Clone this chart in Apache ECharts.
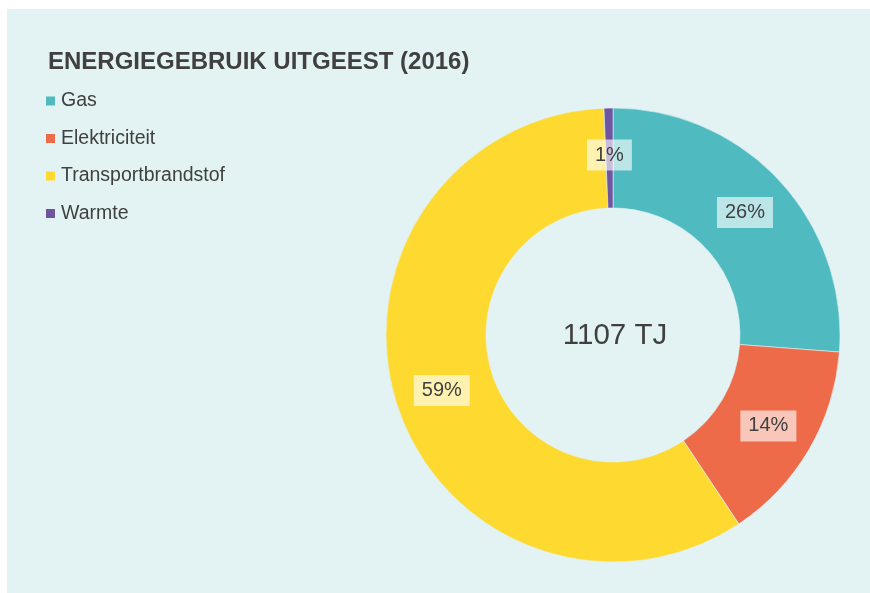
<!DOCTYPE html>
<html>
<head>
<meta charset="utf-8">
<script src="https://cdn.jsdelivr.net/npm/echarts@6/dist/echarts.min.js"></script>
<style>
html,body{margin:0;padding:0;background:#ffffff;}
#panel{position:absolute;left:7px;top:9px;width:863px;height:584px;background:#e3f3f3;}
#chart{position:absolute;left:0;top:0;width:870px;height:593px;}
</style>
</head>
<body>
<div id="panel"></div>
<div id="chart"></div>
<script>
const titleText = 'ENERGIEGEBRUIK UITGEEST (2016)';
const totalText = '1107 TJ';
const categories = ['Gas', 'Elektriciteit', 'Transportbrandstof', 'Warmte'];
const values = [290, 160, 650, 7];
const colors = ['#4fbabf', '#ee6b4a', '#fed930', '#6e55a0'];

const chart = echarts.init(document.getElementById('chart'), null, {renderer: 'canvas'});
const textColor = '#404040';
const font = '"Liberation Sans", Arial, sans-serif';

chart.setOption({
  backgroundColor: 'transparent',
  color: colors,
  title: [{
    text: titleText,
    left: 48,
    top: 50,
    padding: 0,
    textStyle: {fontFamily: font, fontWeight: 'bold', fontSize: 24, color: textColor}
  }, {
    text: totalText,
    left: 615,
    top: 336,
    padding: 0,
    textAlign: 'center',
    textVerticalAlign: 'middle',
    textStyle: {fontFamily: font, fontWeight: 'normal', fontSize: 29.5, color: textColor}
  }],
  legend: {
    orient: 'vertical',
    left: 44,
    top: 91,
    padding: 0,
    itemWidth: 11,
    itemHeight: 11,
    itemGap: 17.5,
    icon: 'rect',
    data: categories,
    textStyle: {fontFamily: font, fontSize: 19.5, color: textColor}
  },
  series: [{
    type: 'pie',
    center: [613, 335],
    radius: [127, 227],
    startAngle: 90,
    clockwise: true,
    avoidLabelOverlap: false,
    data: categories.map((c, i) => ({name: c, value: values[i]})),
    itemStyle: {borderColor: '#e3f3f3', borderWidth: 0.6},
    label: {
      show: true,
      position: 'inside',
      formatter: p => Math.round(p.percent) + '%',
      fontFamily: font,
      fontSize: 20,
      color: textColor,
      backgroundColor: 'rgba(255,255,255,0.62)',
      padding: [6, 8, 5, 8]
    },
    labelLine: {show: false},
    emphasis: {disabled: true}
  }]
});
</script>
</body>
</html>
